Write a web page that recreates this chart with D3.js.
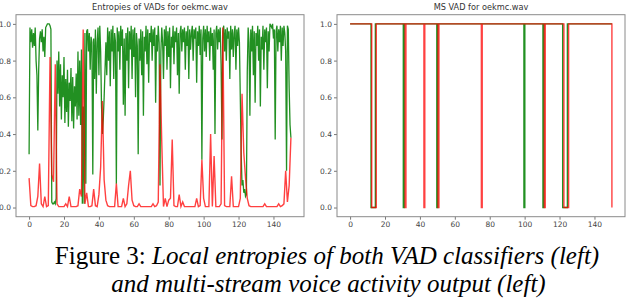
<!DOCTYPE html>
<html>
<head>
<meta charset="utf-8">
<script src="https://cdn.jsdelivr.net/npm/d3@7"></script>
<style>
  body { margin: 0; background: #fff; }
  svg { display: block; }
  .tick text { font-family: "DejaVu Sans", sans-serif; font-size: 7.5px; fill: #444; }
  .tick line { stroke: #777; }
  .domain { display: none; }
</style>
</head>
<body>
<svg id="fig" width="628" height="298"></svg>
<script>
// entropy of the first VAD (green), one value every half second, 0..150 s
const green_step = 0.5;
const entropy_green = [
  0.29, 0.98, 0.90, 0.97, 0.87, 0.95, 0.88, 0.98, 0.80, 0.72, 0.42,
  0.75, 0.92, 0.96, 0.90, 0.97, 0.85, 0.93, 0.82, 0.98, 0.99, 1.00, 1.00, 1.00, 0.99, 0.97,
  0.03, 0.02, 0.02, 0.03, 0.02, 0.05,
  0.80, 0.62, 0.85, 0.55, 0.78, 0.48, 0.72, 0.60, 0.82, 0.46,
  0.70, 0.52, 0.75, 0.44, 0.68, 0.58, 0.76, 0.47, 0.71, 0.43,
  0.66, 0.55, 0.73, 0.48, 0.85, 0.50, 0.80, 0.45, 0.86,
  0.02, 0.55, 0.02,
  0.95, 0.13, 0.96, 0.97, 0.85, 0.95, 0.75, 0.93, 0.90, 0.18,
  0.92, 0.70, 0.97, 0.62, 0.90, 0.98, 0.72, 0.99, 0.85,
  0.55, 0.40, 0.48, 0.60, 0.75, 0.90,
  0.72, 0.98, 0.80, 0.96, 0.66, 0.97, 0.85, 0.99, 0.70, 0.95, 0.90,
  0.13,
  0.98, 0.85, 0.96, 0.75, 0.99, 0.88, 0.97, 0.56, 0.92, 0.50,
  0.95, 0.80, 0.98, 0.65, 0.96, 0.86, 0.99, 0.70, 0.97, 0.82,
  0.98, 0.60, 0.95, 0.88, 0.29,
  0.92, 0.80, 0.97, 0.72, 0.96, 0.50, 0.93, 0.85, 0.99, 0.78,
  0.97, 0.68, 0.95, 0.90, 0.99, 0.80, 0.97, 0.88, 0.98, 0.57,
  0.94, 0.85, 0.99, 0.90,
  0.12,
  0.85, 0.98, 0.90, 0.70, 0.97, 0.88, 0.99, 0.75, 0.96, 0.82,
  0.98, 0.65, 0.93, 0.87, 0.99, 0.78, 0.96, 0.90, 0.98, 0.72, 0.95,
  0.62,
  0.95, 0.99, 0.85, 0.97, 0.90, 0.98, 0.75, 0.96, 0.88, 0.99,
  0.70, 0.97, 0.86, 0.95, 0.99, 0.80, 0.97, 0.92, 0.98, 0.68,
  0.96, 0.88, 0.99, 0.83, 0.97,
  0.26,
  0.92, 0.99, 0.85, 0.97, 0.82, 0.99, 0.90, 0.96, 0.80, 0.98, 0.88, 0.95, 0.75, 0.97,
  0.40,
  0.95, 0.99, 0.86, 0.97, 0.90, 0.98, 0.78,
  0.37,
  0.96, 0.99, 0.85, 0.97, 0.80, 0.98, 0.92, 0.96, 0.70, 0.99,
  0.86, 0.97, 0.82, 0.95, 0.99, 0.75, 0.97, 0.88, 0.98, 0.90, 0.60,
  0.30, 0.12, 0.15, 0.08, 0.10, 0.06, 0.07,
  0.74, 0.98, 0.90, 0.50, 0.97, 0.85, 0.99, 0.72, 0.96, 0.57,
  0.95, 0.88, 0.99, 0.80, 0.97, 0.55, 0.93, 0.86, 0.99, 0.75,
  0.97, 0.90, 0.98, 0.65, 0.96, 0.85, 1.00, 0.99, 0.98, 1.00,
  0.92, 0.97, 0.37, 0.96, 0.99, 0.85, 0.97, 0.90, 0.99, 0.80,
  0.98, 0.88, 0.99, 0.95, 0.85, 0.20, 0.99, 0.97, 0.65, 0.45,
  0.38
];

// entropy of the second VAD (red), one value per second, 0..150 s
const red_step = 1;
const entropy_red = [
  0.16, 0.01, 0.005, 0.005, 0.01, 0.06, 0.24, 0.02, 0.005, 0.06,
  0.005, 0.01, 0.82, 0.18, 0.14, 0.78, 0.02, 0.005, 0.005, 0.005,
  0.005, 0.02, 0.005, 0.06, 0.005, 0.005, 0.005, 0.005, 0.01, 0.10,
  0.06, 0.97, 0.02, 0.08, 0.005, 0.005, 0.01, 0.10, 0.01, 0.005,
  0.07, 0.22, 0.58, 0.15, 0.04, 0.01, 0.005, 0.005, 0.005, 0.005,
  0.13, 0.005, 0.005, 0.005, 0.05, 0.005, 0.02, 0.12, 0.20, 0.04,
  0.01, 0.005, 0.005, 0.02, 0.005, 0.005, 0.005, 0.005, 0.005, 0.005,
  0.005, 0.02, 0.005, 0.01, 0.03, 0.78, 0.36, 0.005, 0.05, 0.005,
  0.04, 0.05, 0.37, 0.01, 0.005, 0.005, 0.07, 0.005, 0.03, 0.005,
  0.005, 0.005, 0.005, 0.005, 0.005, 0.005, 0.05, 0.005, 0.01, 0.26,
  0.05, 0.005, 0.005, 0.005, 0.40, 0.005, 0.28, 0.005, 0.005, 0.005,
  0.02, 0.98, 0.01, 0.005, 0.005, 0.005, 0.17, 0.005, 0.005, 0.005,
  0.005, 0.05, 0.62, 0.30, 0.16, 0.05, 0.01, 0.005, 0.005, 0.005,
  0.005, 0.005, 0.005, 0.005, 0.005, 0.02, 0.005, 0.005, 0.005, 0.005,
  0.005, 0.005, 0.005, 0.02, 0.005, 0.01, 0.02, 0.20, 0.03, 0.12,
  0.38
];

// multi-stream VAD output: time spans (s) where each stream says "no voice"
const ms_green_off = [[12, 14.5], [30.5, 31], [49.7, 50.2], [99.6, 100.1], [110.5, 111], [121.8, 124.5]];
const ms_red_off = [[12.4, 15], [31.5, 32], [42.3, 42.8], [50.4, 50.9], [75.2, 75.7], [111.3, 111.8], [122.5, 125.2], [150, null]];
const ms_end = 150;

const x_ticks = [0, 20, 40, 60, 80, 100, 120, 140];
const y_ticks = [0, 0.2, 0.4, 0.6, 0.8, 1.0];

const green = "#0a840a", red = "#ff0000";

const svg = d3.select("#fig");

function make_panel(left, right, title) {
  const top = 14.7, bottom = 216.7;
  const x = d3.scaleLinear().domain([-7.5, 157.5]).range([left, right]);
  const y = d3.scaleLinear().domain([-0.05, 1.05]).range([bottom, top]);
  const g = svg.append("g");

  g.append("g")
    .attr("transform", `translate(0,${bottom})`)
    .call(d3.axisBottom(x).tickValues(x_ticks).tickSize(3).tickPadding(2));
  g.append("g")
    .attr("transform", `translate(${left},0)`)
    .call(d3.axisLeft(y).tickValues(y_ticks).tickFormat(d3.format(".1f")).tickSize(3).tickPadding(2));

  g.append("text")
    .attr("x", (left + right) / 2)
    .attr("y", 10)
    .attr("text-anchor", "middle")
    .attr("font-family", "DejaVu Sans, sans-serif")
    .attr("font-size", 8.2)
    .attr("fill", "#333")
    .text(title);

  return {g, x, y, left, right, top, bottom};
}

function frame(p) {
  p.g.append("rect")
    .attr("x", p.left).attr("y", p.top)
    .attr("width", p.right - p.left).attr("height", p.bottom - p.top)
    .attr("fill", "none").attr("stroke", "#8a8a8a").attr("stroke-width", 1);
}

// left: entropies
const p1 = make_panel(16, 304, "Entropies of VADs for oekmc.wav");
p1.g.append("path").datum(entropy_green)
  .attr("d", d3.line().x((d, i) => p1.x(i * green_step)).y(d => p1.y(d)))
  .attr("fill", "none")
  .attr("stroke", green).attr("stroke-opacity", 0.9).attr("stroke-width", 1.3);
p1.g.append("path").datum(entropy_red)
  .attr("d", d3.line().x((d, i) => p1.x(i * red_step)).y(d => p1.y(d)))
  .attr("fill", "none")
  .attr("stroke", red).attr("stroke-opacity", 0.75).attr("stroke-width", 1.4);
frame(p1);

// right: MS VAD output
function steps(off) {
  const pts = [[0, 1]];
  off.forEach(([a, b]) => {
    pts.push([a, 1], [a, 0]);
    if (b !== null) pts.push([b, 0], [b, 1]);
  });
  if (off[off.length - 1][1] !== null) pts.push([ms_end, 1]);
  return pts;
}
const p2 = make_panel(337, 625, "MS VAD for oekmc.wav");
const line2 = d3.line().x(d => p2.x(d[0])).y(d => p2.y(d[1]));
p2.g.append("path").datum(steps(ms_green_off))
  .attr("d", line2).attr("fill", "none")
  .attr("stroke", green).attr("stroke-opacity", 0.9).attr("stroke-width", 1.4);
p2.g.append("path").datum(steps(ms_red_off))
  .attr("d", line2).attr("fill", "none")
  .attr("stroke", red).attr("stroke-opacity", 0.75).attr("stroke-width", 1.4);
frame(p2);

// caption
const cap = svg.append("g")
  .attr("font-family", "Liberation Serif, Times New Roman, serif")
  .attr("font-size", 25)
  .attr("fill", "#000")
  .attr("text-anchor", "middle");
const l1 = cap.append("text").attr("x", 327).attr("y", 264);
l1.append("tspan").text("Figure 3: ");
l1.append("tspan").attr("font-style", "italic").text("Local entropies of both VAD classifiers (left)");
cap.append("text").attr("x", 328.5).attr("y", 291.5)
  .attr("font-style", "italic")
  .text("and multi-stream voice activity output (left)");
</script>
</body>
</html>
